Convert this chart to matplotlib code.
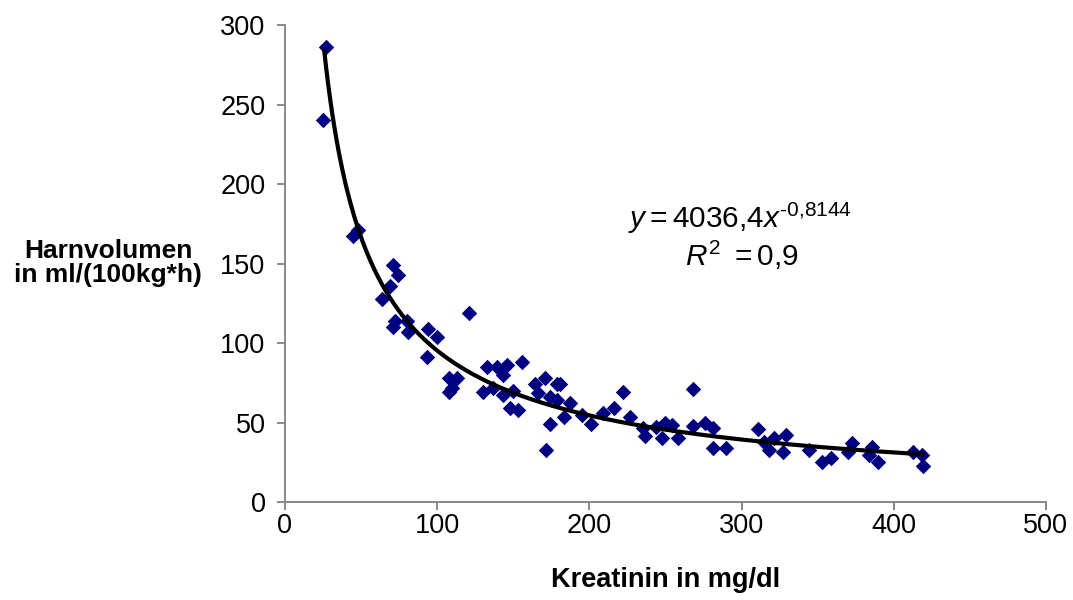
import numpy as np
import matplotlib
matplotlib.use("Agg")
from matplotlib import pyplot as plt

plt.rcParams['font.family'] = ['Liberation Sans', 'DejaVu Sans']
plt.rcParams['mathtext.fontset'] = 'custom'
plt.rcParams['mathtext.it'] = 'Liberation Sans:italic'
plt.rcParams['mathtext.rm'] = 'Liberation Sans'

# Kreatinin (mg/dl) vs Harnvolumen (ml/(100kg*h))
kreatinin = [27, 25, 45, 48, 64, 69, 71, 74, 72, 71, 80, 81,
             94, 100, 93, 121, 108, 113, 108, 110,
             133, 139, 146, 156, 143, 130, 137, 143, 150, 148, 153,
             171, 164, 179, 166, 174, 179, 187, 183, 174, 171.5, 181,
             195, 201, 209, 216, 222, 227, 235, 236.5, 244, 250, 254,
             248, 258, 268, 268, 276, 281, 281, 290,
             311, 315, 321, 329, 318, 327, 344, 353, 359, 372.5, 370,
             386, 384, 389.6, 412.6, 418.5, 419]
harnvolumen = [286, 240, 167, 171, 128, 136, 149, 143, 114, 110, 114, 107,
               109, 104, 91, 119, 78, 78, 69, 72,
               85, 85, 86, 88, 80, 69, 72, 67, 70, 59, 58,
               78, 74, 74, 68.5, 66, 64, 62, 53.5, 49, 33, 74,
               55, 49, 56, 59, 69, 53.5, 46.5, 41.5, 47, 50, 48.5,
               40, 40, 71, 48, 50, 46.5, 34, 34,
               46, 38, 40, 42, 33, 31.5, 33, 25, 28, 37, 31.5,
               34.5, 29.5, 25, 31.5, 29.5, 22.6]

eq_label = r'$\mathit{y = 4036{,}4x^{\text{-}0{,}8144}}$'
r2_label = r'$\mathit{R^2\ = 0{,}9}$'

x = np.array(kreatinin)
y = np.array(harnvolumen)

# power trendline (log-log least squares, like Excel)
b, log_a = np.polyfit(np.log(x), np.log(y), 1)
xfit = np.linspace(25.8, x.max(), 300)
yfit = np.exp(log_a) * xfit ** b

fig = plt.figure(figsize=(10.73, 6.0), dpi=100)
ax = fig.add_axes([0.2656, 0.1633, 0.7092, 0.795])

ax.scatter(x, y, marker='D', s=62, color='#000080', linewidths=0, zorder=3)
ax.plot(xfit, yfit, color='black', lw=3, zorder=4)

ax.set_xlim(0, 500)
ax.set_ylim(0, 300)
ax.set_xticks(range(0, 501, 100))
ax.set_yticks(range(0, 301, 50))

for side in ['top', 'right']:
    ax.spines[side].set_visible(False)
for side in ['left', 'bottom']:
    ax.spines[side].set_color('#808080')
    ax.spines[side].set_linewidth(1.3)
ax.tick_params(direction='out', length=6, width=1.3, color='#808080',
               labelsize=19.5)
ax.tick_params(axis='x', pad=2)
ax.tick_params(axis='y', pad=8)

fig.text(0.101, 0.5617, 'Harnvolumen\nin ml/(100kg*h)', ha='center', va='center',
         fontsize=19, fontweight='bold', linespacing=1.05)
fig.text(0.62, 0.012, 'Kreatinin in mg/dl', ha='center', va='bottom',
         fontsize=19.5, fontweight='bold')

ax.text(299, 178.6, eq_label, ha='center', va='center', fontsize=21.5)
ax.text(300, 155, r2_label, ha='center', va='center', fontsize=21.5)

fig.savefig('out.png', dpi=100)
